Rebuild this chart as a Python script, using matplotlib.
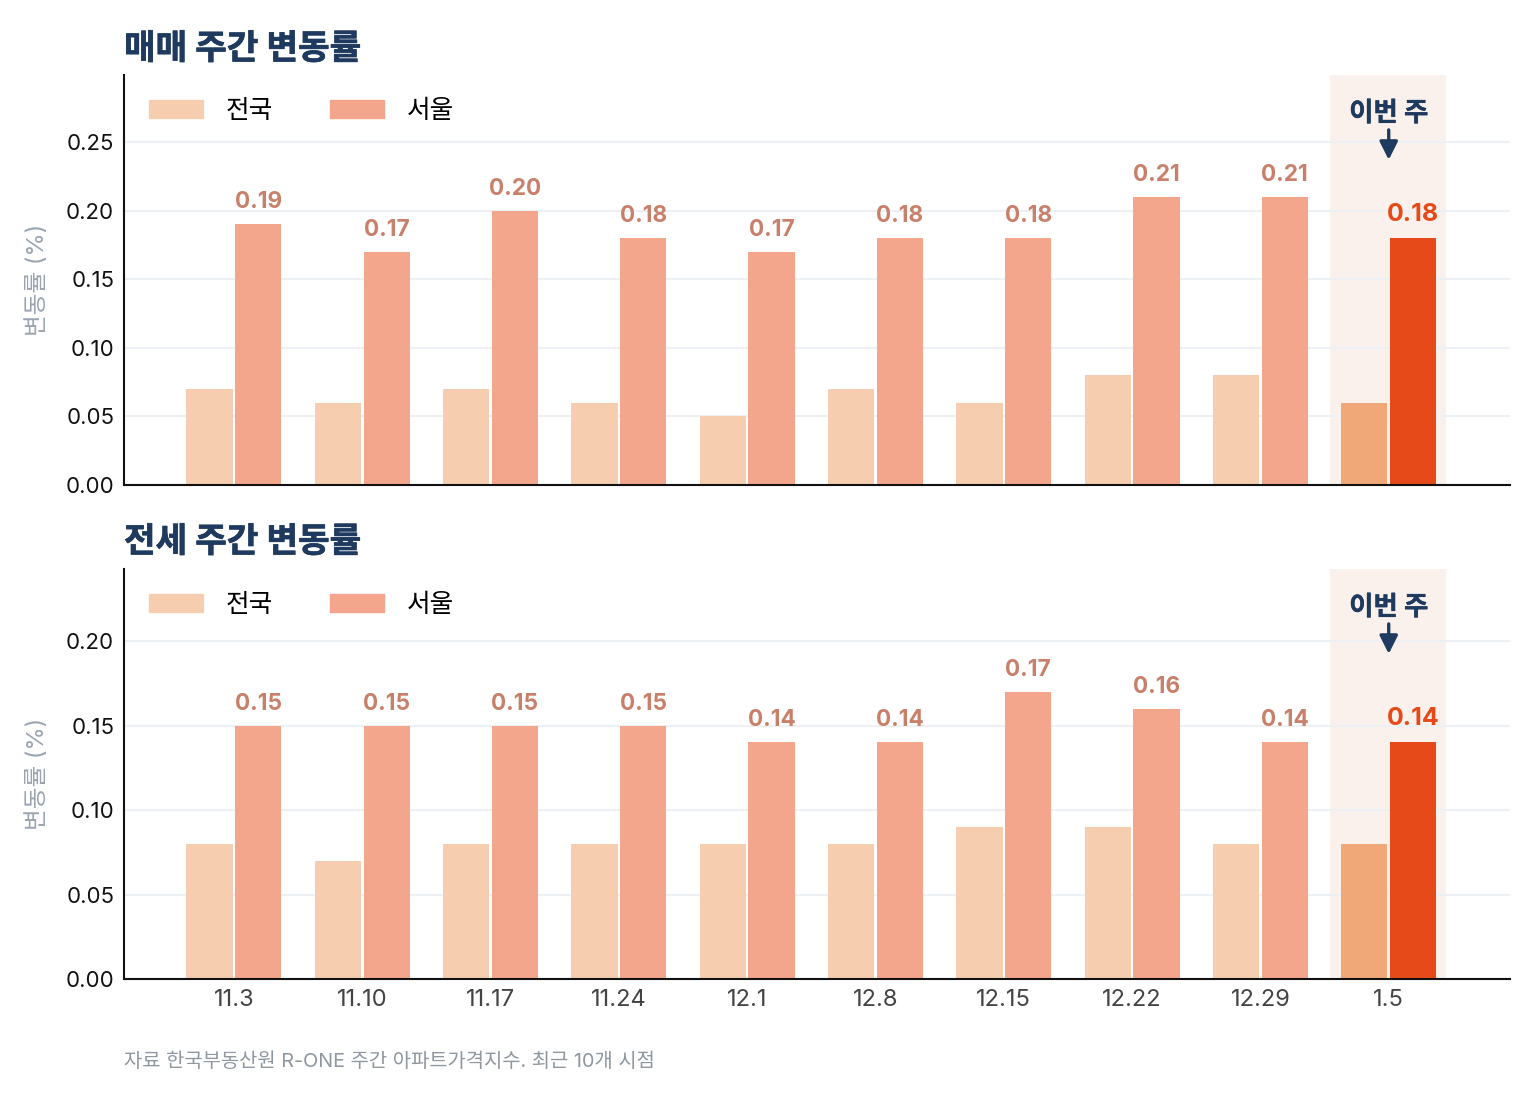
import matplotlib
matplotlib.use('Agg')
import matplotlib.pyplot as plt
import matplotlib.patheffects as pe
import numpy as np
from matplotlib.patches import Patch

plt.rcParams['font.family'] = ['Inter', 'Noto Sans CJK KR', 'DejaVu Sans']

# 데이터
weeks = ['11.3', '11.10', '11.17', '11.24', '12.1', '12.8', '12.15', '12.22', '12.29', '1.5']
sale_nation = [0.07, 0.06, 0.07, 0.06, 0.05, 0.07, 0.06, 0.08, 0.08, 0.06]
sale_seoul = [0.19, 0.17, 0.20, 0.18, 0.17, 0.18, 0.18, 0.21, 0.21, 0.18]
jeonse_nation = [0.08, 0.07, 0.08, 0.08, 0.08, 0.08, 0.09, 0.09, 0.08, 0.08]
jeonse_seoul = [0.15, 0.15, 0.15, 0.15, 0.14, 0.14, 0.17, 0.16, 0.14, 0.14]

C_NATION = '#F6CDAE'
C_SEOUL = '#F4A68C'
C_NATION_HI = '#F0A878'
C_SEOUL_HI = '#E64A19'
C_LABEL = '#C8806A'
C_TITLE = '#1F3A5F'
C_GRID = '#EDF1F5'
C_HISPAN = '#FAF1EC'

fig = plt.figure(figsize=(15.4, 11.04), dpi=100)
ax1 = fig.add_axes([0.0805, 0.5607, 0.9, 0.3714])
ax2 = fig.add_axes([0.0805, 0.1132, 0.9, 0.3714])

# 굵은 제목용 외곽선 (살짝만)
heavy = [pe.withStroke(linewidth=0.5, foreground=C_TITLE)]


def draw(ax, nation, seoul, ymax, yticks, title, title_y):
    x = np.arange(len(weeks))
    w = 0.36
    off = 0.19
    last = len(weeks) - 1
    ax.axvspan(last - 0.46, last + 0.45, color=C_HISPAN, zorder=0, lw=0)
    cn = [C_NATION] * last + [C_NATION_HI]
    cs = [C_SEOUL] * last + [C_SEOUL_HI]
    ax.bar(x - off, nation, width=w, color=cn, zorder=2)
    ax.bar(x + off, seoul, width=w, color=cs, zorder=2)
    for i, v in enumerate(seoul):
        if i == last:
            ax.annotate(f'{v:.2f}', (x[i] + off, v), xytext=(0, 17), textcoords='offset pixels',
                        ha='center', va='baseline', fontsize=18, fontweight='bold', color=C_SEOUL_HI)
        else:
            ax.annotate(f'{v:.2f}', (x[i] + off, v), xytext=(0, 16), textcoords='offset pixels',
                        ha='center', va='baseline', fontsize=16.3, fontweight='bold', color=C_LABEL)
    ax.set_xlim(-0.857, 9.945)
    ax.set_ylim(0, ymax)
    ax.set_yticks(yticks)
    ax.set_yticklabels([f'{t:.2f}' for t in yticks])
    ax.grid(axis='y', color=C_GRID, lw=1.5, zorder=0)
    ax.set_axisbelow(True)
    for s in ['top', 'right']:
        ax.spines[s].set_visible(False)
    for s in ['left', 'bottom']:
        ax.spines[s].set_linewidth(1.5)
        ax.spines[s].set_color('#111111')
    ax.tick_params(axis='both', length=0)
    ax.tick_params(axis='y', pad=7, labelsize=16, labelcolor='#111111')
    ax.tick_params(axis='x', pad=7, labelsize=17, labelcolor='#444444')
    ax.set_ylabel('변동률 (%)', fontsize=17, color='#9AA3B0')
    ax.yaxis.set_label_coords(-0.054, 0.5)

    handles = [Patch(color=C_NATION), Patch(color=C_SEOUL)]
    ax.legend(handles, ['전국', '서울'], ncol=2, frameon=False, loc='center left',
              bbox_to_anchor=(0.018, 0.912), fontsize=18.5, handlelength=2.1,
              handleheight=0.7, handletextpad=0.9, columnspacing=2.2,
              borderaxespad=0, borderpad=0)

    ax.annotate('', xy=(last, 0.793), xycoords=('data', 'axes fraction'),
                xytext=(last, 0.866), textcoords=('data', 'axes fraction'),
                arrowprops=dict(arrowstyle='-|>,head_width=0.55,head_length=1.1',
                                color=C_TITLE, lw=2.4, shrinkA=0, shrinkB=0))
    ax.text(last, 0.905, '이번 주', transform=ax.get_xaxis_transform(), ha='center', va='center',
            fontsize=19, fontweight='bold', color=C_TITLE,
            path_effects=[pe.withStroke(linewidth=0.3, foreground=C_TITLE)])

    fig.text(124 / 1540, 1 - title_y / 1104, title, ha='left', va='baseline',
             fontsize=24.7, fontweight='bold', color=C_TITLE, path_effects=heavy)


draw(ax1, sale_nation, sale_seoul, 0.299, [0, 0.05, 0.10, 0.15, 0.20, 0.25], '매매 주간 변동률', 59)
draw(ax2, jeonse_nation, jeonse_seoul, 0.2426, [0, 0.05, 0.10, 0.15, 0.20], '전세 주간 변동률', 552)

ax1.set_xticks(np.arange(len(weeks)))
ax1.set_xticklabels([])
ax2.set_xticks(np.arange(len(weeks)))
ax2.set_xticklabels(weeks)

fig.text(124 / 1540, 1 - 1062 / 1104, '자료 한국부동산원 R-ONE 주간 아파트가격지수. 최근 10개 시점',
         ha='left', va='center', fontsize=14.3, color='#8E96A0')

fig.savefig('out.png', dpi=100)
